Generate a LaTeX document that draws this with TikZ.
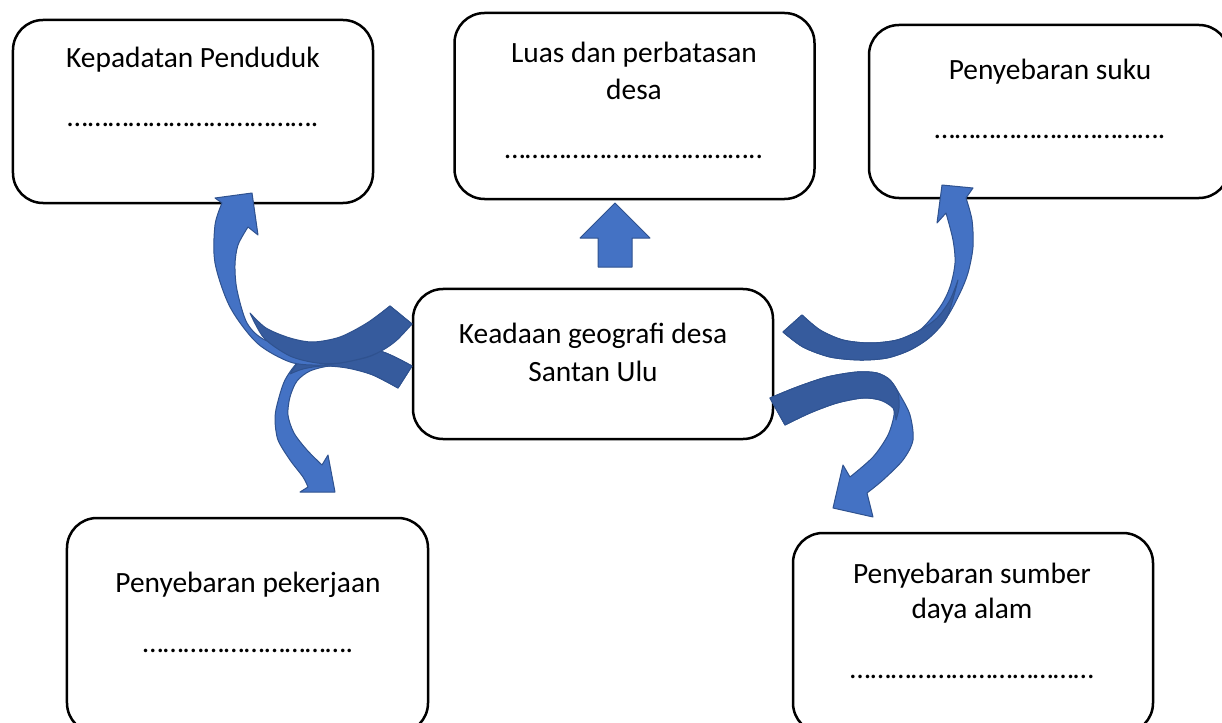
\documentclass[tikz,border=0pt]{standalone}
\usepackage{fontspec}
\setmainfont{Carlito}
\definecolor{arrlight}{HTML}{4472C4}
\definecolor{arrdark}{HTML}{365B9D}
\definecolor{arrline}{HTML}{2F528F}
\newcommand\myelp{…}
\newcommand\myelpfive{\myelp\myelp\myelp\myelp\myelp}
\begin{document}
\begin{tikzpicture}[x=1bp,y=-1bp,
  box/.style={draw=black, line width=2.5bp, rounded corners=30bp, fill=white, inner sep=0pt},
  txt/.style={anchor=base, inner sep=0pt, font=\fontsize{29.4bp}{38bp}\selectfont},
  arrlt/.style={fill=arrlight, draw=arrline, line width=1bp, line join=round},
  arrdk/.style={fill=arrdark, draw=arrline, line width=1bp, line join=round}]
\useasboundingbox (0,0) rectangle (1222,723);
\clip (0,0) rectangle (1222,723);
% boxes
\node[box, minimum width=360bp, minimum height=183bp] (b1) at (193,111.5) {};
\node[box, minimum width=360bp, minimum height=186bp] (b2) at (634.5,106) {};
\node[box, minimum width=360bp, minimum height=173bp] (b3) at (1049,111.5) {};
\node[box, minimum width=360bp, minimum height=150bp] (c) at (593,364) {};
\node[box, minimum width=361bp, minimum height=215bp] (b5) at (247.5,625.5) {};
\node[box, minimum width=360bp, minimum height=200bp] (b6) at (973,633) {};
% texts
\node[txt] (t1a) at (193,68) {Kepadatan Penduduk};
\node[txt] (t1b) at (193,127) {\myelpfive\myelpfive\myelp\myelp.};
\node[txt] (t2a) at (634,63) {Luas dan perbatasan};
\node[txt] (t2b) at (634,100) {desa};
\node[txt] (t2c) at (634,159) {\myelpfive\myelpfive\myelp\myelp..};
\node[txt] (t3a) at (1050,80) {Penyebaran suku};
\node[txt] (t3b) at (1050,139) {\myelpfive\myelpfive\myelp.};
\node[txt] (tca) at (593,343) {Keadaan geografi desa};
\node[txt] (tcb) at (593,381) {Santan Ulu};
\node[txt] (t5a) at (248,592) {Penyebaran pekerjaan};
\node[txt] (t5b) at (248,652) {\myelpfive\myelpfive.};
\node[txt] (t6a) at (972,583) {Penyebaran sumber};
\node[txt] (t6b) at (972,618) {daya alam};
\node[txt] (t6c) at (972,678) {\myelpfive\myelpfive\myelp\myelp};
% straight up arrow
\path[arrlt] (598,267) -- (598,238) -- (580,238) -- (615,203) -- (650,238) -- (632,238) -- (632,267) -- cycle;
% arrow B (to b5)
\path[arrlt] (412,366) -- plot[smooth] coordinates {(412,366) (383,352) (350,347) (320,350) (300,360) (285,380) (277,405) (275,420) (278,440) (290,460) (303,477) (308,487)}
  -- (300,492) -- (335,492) -- (328,455) -- (322,465)
  -- plot[smooth] coordinates {(322,465) (307,450) (294,433) (288,415) (290,397) (297,381) (310,371) (330,366) (350,368) (373,375) (398,388)} -- cycle;
\path[arrdk] (412,366) -- plot[smooth] coordinates {(412,366) (383,352) (350,347) (320,350) (302,358) (290,374)}
  -- plot[smooth] coordinates {(290,374) (303,369) (323,366) (347,368) (373,375) (398,388)} -- cycle;
% arrow A (to b1)
\path[arrlt] (390,306) -- plot[smooth] coordinates {(390,306) (350,335) (300,348) (265,340) (247,323) (237,290) (235,265) (238,245) (248,227)}
  -- (258,235) -- (252,193) -- (215,198) -- (222,203)
  -- plot[smooth] coordinates {(222,203) (215,225) (215,263) (230,307) (257,343) (290,362) (320,365) (350,361) (377,353) (412,324)} -- cycle;
\path[arrdk] (390,306) -- plot[smooth] coordinates {(390,306) (367,323) (340,337) (313,342) (290,338) (266,328) (250,313)}
  -- plot[smooth] coordinates {(250,313) (264,338) (290,356) (317,363) (340,363) (367,357) (383,350) (397,340) (412,324)} -- cycle;
% arrow C (to b3)
\path[arrlt] (783,332) -- plot[smooth] coordinates {(783,332) (803,347) (830,357) (860,360) (887,358) (910,350) (930,337) (947,317) (960,293) (968,273) (973,247) (972,220) (966,198)}
  -- (973,188) -- (942,185) -- (937,223) -- (946,213)
  -- plot[smooth] coordinates {(946,213) (953,240) (955,263) (950,287) (940,307) (920,330) (897,340) (870,343) (843,340) (820,330) (802,315)} -- cycle;
\path[arrdk] (802,315) -- plot[smooth] coordinates {(802,315) (820,330) (843,340) (870,343) (897,340) (920,330) (937,318) (950,300) (958,280)}
  -- plot[smooth] coordinates {(958,280) (947,317) (930,337) (910,350) (887,358) (860,360) (830,357) (803,347) (783,332)} -- cycle;
% arrow D (to b6)
\path[arrlt] (770,398) -- plot[smooth] coordinates {(770,398) (797,387) (827,377) (857,372) (877,373) (890,380) (900,395) (910,415) (913,440) (903,460) (883,480) (867,493)}
  -- (873,517) -- (833,508) -- (843,465) -- (850,477)
  -- plot[smooth] coordinates {(850,477) (873,457) (888,435) (894,415) (892,405) (880,400) (863,398) (837,403) (810,413) (785,425)} -- cycle;
\path[arrdk] (770,398) -- plot[smooth] coordinates {(770,398) (797,387) (827,377) (857,372) (877,373) (890,380) (898,393) (899,408) (896,420)}
  -- plot[smooth] coordinates {(896,420) (893,408) (880,400) (863,398) (837,403) (810,413) (785,425)} -- cycle;
\end{tikzpicture}
\end{document}
